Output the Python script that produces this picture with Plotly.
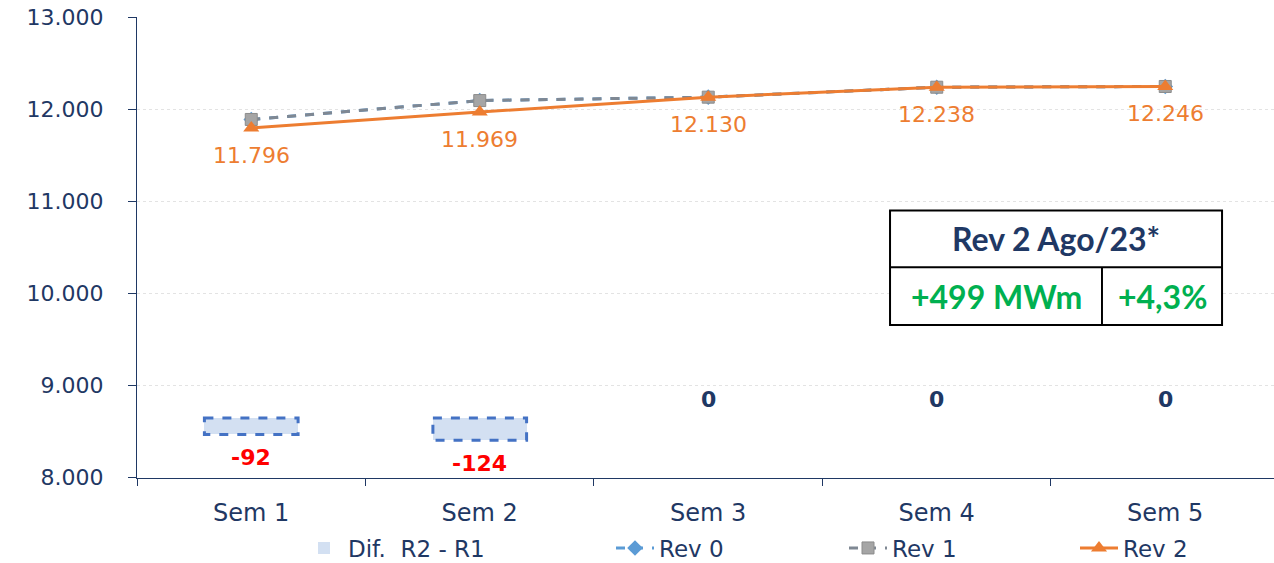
import plotly.graph_objects as go

# Weekly values (MWm)
weeks = ["Sem 1", "Sem 2", "Sem 3", "Sem 4", "Sem 5"]
rev0 = [11888, 12093, 12130, 12238, 12246]
rev1 = [11888, 12093, 12130, 12238, 12246]
rev2 = [11796, 11969, 12130, 12238, 12246]
dif_r2_r1 = [-92, -124, 0, 0, 0]

y_ticks = [8000, 9000, 10000, 11000, 12000, 13000]

summary_title = "Rev 2 Ago/23*"
summary_delta = "+499 MWm"
summary_pct = "+4,3%"

NAVY = "#1F3864"
ORANGE = "#ED7D31"
GRAY = "#A5A5A5"
GRAY_LINE = "#7F8893"
BLUE = "#5B9BD5"
BAR_EDGE = "#4472C4"
BAR_FILL = "#D3E0F2"
GREEN = "#00B050"
FONT = "DejaVu Sans"


def fmt(v):
    return f"{v:,}".replace(",", ".")


BAR_W = 0.41

fig = go.Figure()

fig.add_trace(go.Bar(
    x=weeks, y=dif_r2_r1, name="Dif.  R2 - R1", yaxis="y2",
    width=BAR_W, marker=dict(color=BAR_FILL, line=dict(color=BAR_EDGE, width=0)),
    legend="legend", showlegend=True, hoverinfo="skip",
))
fig.add_trace(go.Scatter(
    x=weeks, y=rev0, name="Rev 0", mode="lines+markers",
    line=dict(color=BLUE, width=3, dash="dash"),
    marker=dict(symbol="diamond", size=12, color=BLUE),
    legend="legend2", showlegend=True,
))
fig.add_trace(go.Scatter(
    x=weeks, y=rev1, name="Rev 1", mode="lines+markers",
    line=dict(color=GRAY_LINE, width=3, dash="dash"),
    marker=dict(symbol="square", size=12, color=GRAY,
                line=dict(color="#8C8C8C", width=1)),
    legend="legend3", showlegend=True,
))
fig.add_trace(go.Scatter(
    x=weeks, y=rev2, name="Rev 2", mode="lines+markers",
    line=dict(color=ORANGE, width=3),
    marker=dict(symbol="triangle-up", size=14, color=ORANGE),
    legend="legend4", showlegend=True,
))

shapes = []
annotations = []

# value labels under the Rev 2 points
for i, v in enumerate(rev2):
    annotations.append(dict(
        x=weeks[i], y=v, xref="x", yref="y", text=fmt(v),
        showarrow=False, yanchor="top", yshift=-13,
        font=dict(family=FONT, size=22, color=ORANGE),
    ))

# dashed outlines around the difference bars + their value labels
for i, v in enumerate(dif_r2_r1):
    if v != 0:
        shapes.append(dict(
            type="rect", xref="x", yref="y2",
            x0=i - BAR_W / 2, x1=i + BAR_W / 2, y0=0, y1=v,
            line=dict(color=BAR_EDGE, width=3, dash="dash"),
        ))
        annotations.append(dict(
            x=weeks[i], y=v, xref="x", yref="y2", text=f"<b>{v}</b>",
            showarrow=False, yanchor="top", yshift=-9,
            font=dict(family=FONT, size=22, color="#FF0000"),
        ))
    else:
        annotations.append(dict(
            x=weeks[i], y=v, xref="x", yref="y2", text=f"<b>{v}</b>",
            showarrow=False, yanchor="bottom", yshift=4,
            font=dict(family=FONT, size=22, color=NAVY),
        ))

# summary box
bx0, bx1, by0, by1 = 0.6623, 0.9543, 0.3312, 0.5801
ymid, xmid = 0.4567, 0.8487
box_line = dict(color="#000000", width=2)
shapes += [
    dict(type="rect", xref="paper", yref="paper", x0=bx0, x1=bx1, y0=by0, y1=by1,
         line=box_line, fillcolor="white", layer="above"),
    dict(type="line", xref="paper", yref="paper", x0=bx0, x1=bx1, y0=ymid, y1=ymid,
         line=box_line),
    dict(type="line", xref="paper", yref="paper", x0=xmid, x1=xmid, y0=by0, y1=ymid,
         line=box_line),
]
box_text = dict(xref="paper", yref="paper", showarrow=False,
                xanchor="center", yanchor="middle")
annotations += [
    dict(x=(bx0 + bx1) / 2, y=(ymid + by1) / 2, text=f"<b>{summary_title}</b>",
         font=dict(family="Lato", size=32, color=NAVY), **box_text),
    dict(x=(bx0 + xmid) / 2, y=(by0 + ymid) / 2, text=f"<b>{summary_delta}</b>",
         font=dict(family="Lato", size=32, color=GREEN), **box_text),
    dict(x=(xmid + bx1) / 2, y=(by0 + ymid) / 2, text=f"<b>{summary_pct}</b>",
         font=dict(family="Lato", size=32, color=GREEN), **box_text),
]

legend_font = dict(family=FONT, size=23, color=NAVY)


def legend_at(px):
    return dict(orientation="h", x=px / 1274, y=(563 - 548) / 563,
                xref="container", yref="container", xanchor="left", yanchor="middle",
                font=legend_font, bgcolor="rgba(0,0,0,0)", itemwidth=38)


fig.update_layout(
    width=1274, height=563,
    margin=dict(l=137, r=0, t=17, b=84),
    plot_bgcolor="white", paper_bgcolor="white",
    font=dict(family=FONT, size=22, color=NAVY),
    showlegend=True,
    bargap=0,
    xaxis=dict(
        type="category", range=[-0.5, 4.476],
        showline=True, linecolor=NAVY, linewidth=1,
        ticks="outside", tickson="boundaries", ticklen=7, tickcolor=NAVY,
        ticklabelstandoff=13,
        showgrid=False, tickfont=dict(family=FONT, size=24, color=NAVY),
    ),
    yaxis=dict(
        range=[8000, 13000], tickvals=y_ticks, ticktext=[fmt(v) for v in y_ticks],
        showline=True, linecolor=NAVY, linewidth=1,
        ticks="outside", ticklen=8, tickcolor=NAVY, ticklabelstandoff=20,
        showgrid=True, gridcolor="#E3E3E3", gridwidth=1, griddash="dot",
        zeroline=False, tickfont=dict(family=FONT, size=22, color=NAVY),
    ),
    yaxis2=dict(
        overlaying="y", range=[-333, 2233], visible=False, showgrid=False,
        zeroline=False,
    ),
    legend=legend_at(300),
    legend2=legend_at(611),
    legend3=legend_at(844),
    legend4=legend_at(1075),
    shapes=shapes,
    annotations=annotations,
)

fig.write_html("out.html")
